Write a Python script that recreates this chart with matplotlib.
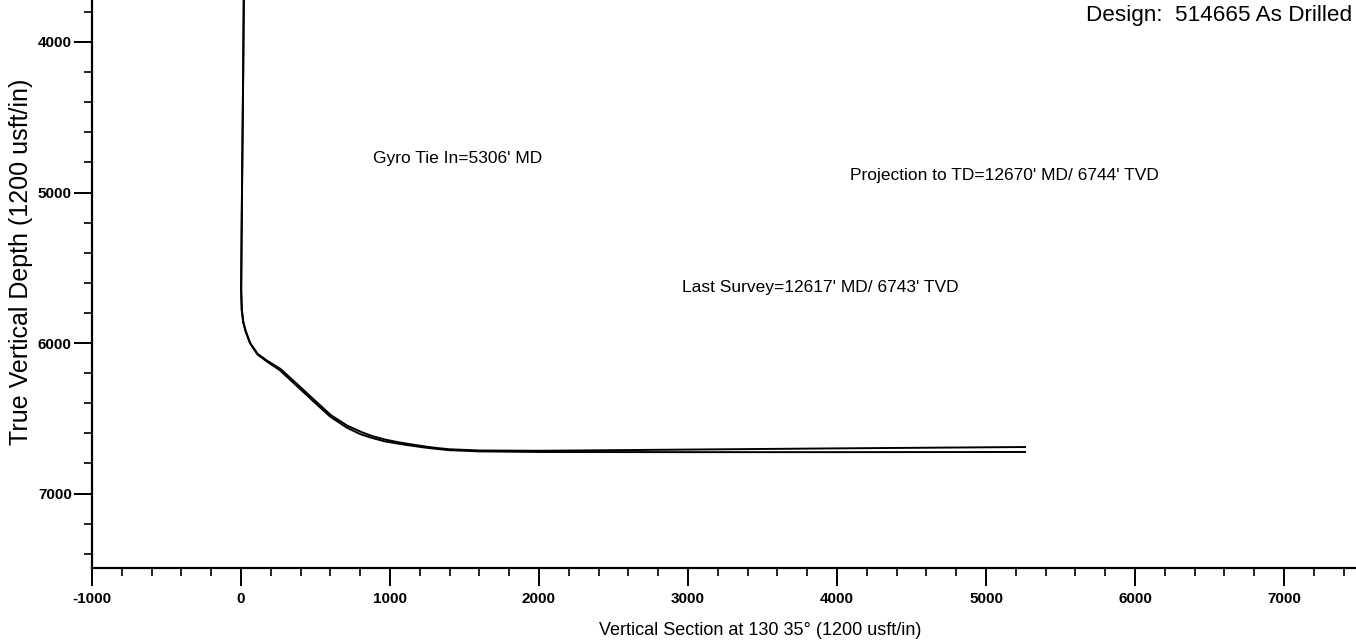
import matplotlib
matplotlib.use("Agg")
import matplotlib.pyplot as plt
from matplotlib.ticker import MultipleLocator

plt.rcParams['font.family'] = ['Liberation Sans', 'DejaVu Sans']
plt.rcParams['axes.unicode_minus'] = False

# vertical section (usft) and TVD (usft)
vs_plan = [20, 15, 10, 6, 3, 1, 5, 15, 30, 60, 110, 170, 260, 380, 500, 600,
           710, 800, 870, 960, 1050, 1150, 1230, 1300, 1400, 1600, 2000, 3000,
           4000, 5262]
tvd_plan = [3600, 4200, 4700, 5100, 5450, 5650, 5780, 5860, 5920, 6000, 6075,
            6120, 6180, 6290, 6400, 6490, 6562, 6605, 6628, 6652, 6668, 6683,
            6694, 6702, 6712, 6720, 6724, 6725, 6725, 6724]

vs_actual = [20, 15, 10, 6, 3, 2, 6, 16, 32, 62, 112, 172, 265, 385, 505, 605,
             715, 810, 880, 970, 1060, 1160, 1240, 1310, 1400, 1600, 2000,
             3000, 4000, 5262]
tvd_actual = [3600, 4200, 4700, 5100, 5450, 5650, 5780, 5860, 5920, 6000,
              6072, 6115, 6172, 6280, 6390, 6480, 6550, 6592, 6618, 6642, 6660,
              6676, 6688, 6697, 6706, 6714, 6716, 6708, 6700, 6691]

notes = ["Gyro Tie In=5306' MD",
         "Projection to TD=12670' MD/ 6744' TVD",
         "Last Survey=12617' MD/ 6743' TVD"]
note_vs = [886, 4090, 2960]
note_tvd = [4771, 4890, 5628]

fig = plt.figure(figsize=(13.56, 6.43), dpi=100)
ax = fig.add_axes([0.0678, 0.1166, 0.9322, 0.8834])

ax.plot(vs_plan, tvd_plan, color='black', lw=1.4)
ax.plot(vs_actual, tvd_actual, color='black', lw=1.4)

for txt, x, y in zip(notes, note_vs, note_tvd):
    ax.text(x, y, txt, fontsize=12.5, va='center', ha='left')

ax.set_xlim(-1000, 7483)
ax.set_ylim(7495, 3721)

ax.xaxis.set_major_locator(MultipleLocator(1000))
ax.xaxis.set_minor_locator(MultipleLocator(200))
ax.yaxis.set_major_locator(MultipleLocator(1000))
ax.yaxis.set_minor_locator(MultipleLocator(200))

ax.spines['top'].set_visible(False)
ax.spines['right'].set_visible(False)
ax.spines['left'].set_linewidth(1.6)
ax.spines['bottom'].set_linewidth(1.6)

ax.tick_params(which='major', direction='out', length=13, width=1.4,
               labelsize=11)
ax.tick_params(axis='x', which='major', pad=4)
ax.tick_params(axis='y', which='major', pad=1.5)
ax.tick_params(which='minor', direction='out', length=6, width=1.2)
for lab in ax.get_xticklabels() + ax.get_yticklabels():
    lab.set_fontweight('bold')

ax.set_xlabel("Vertical Section at 130 35\u00b0 (1200 usft/in)", fontsize=13,
              va='center')
ax.xaxis.set_label_coords((760 - 92) / 1264, (568 - 630) / 568)
ax.set_ylabel("True Vertical Depth (1200 usft/in)", fontsize=18, va='center')
ax.yaxis.set_label_coords((21 - 92) / 1264, (568 - 262) / 568)

fig.text(1086 / 1356, 1 - 16 / 643, "Design:  514665 As Drilled",
         fontsize=16.2, va='center', ha='left')

fig.savefig("out.png", dpi=100)
